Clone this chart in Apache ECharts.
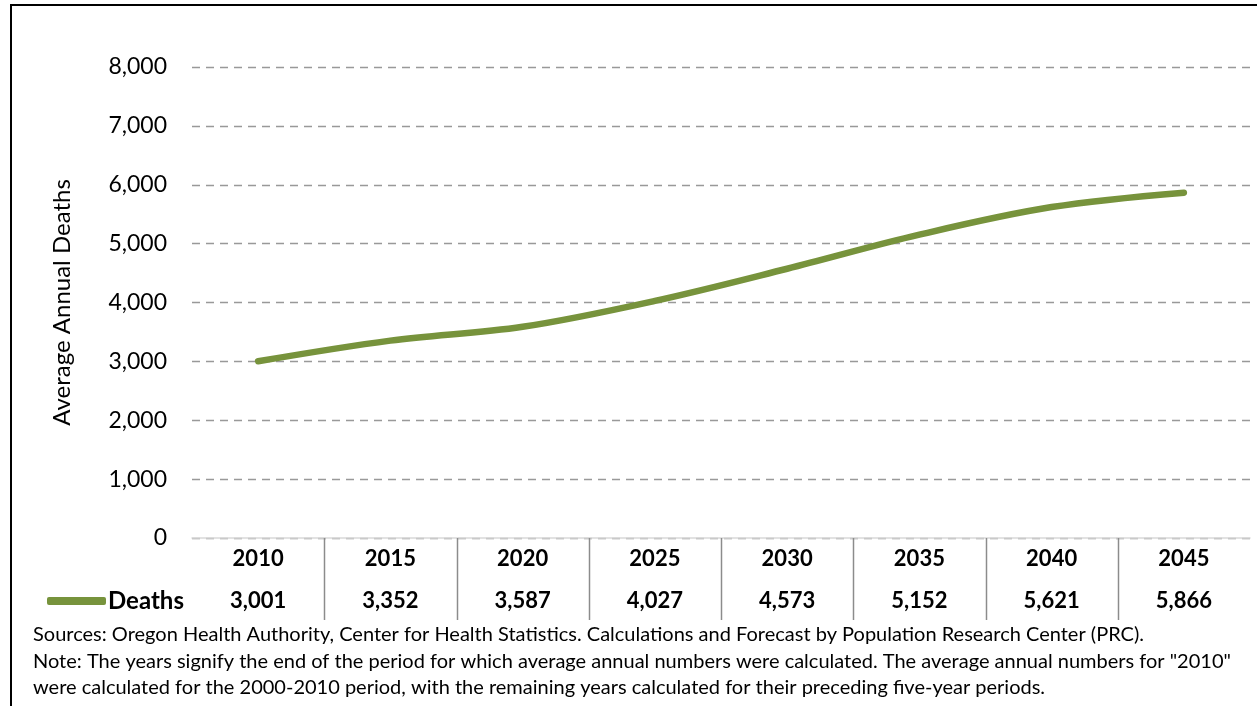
<!DOCTYPE html>
<html>
<head>
<meta charset="utf-8">
<title>Average Annual Deaths</title>
<script src="https://cdn.jsdelivr.net/npm/echarts@6/dist/echarts.min.js"></script>
<style>
  html, body { margin: 0; padding: 0; background: #ffffff; }
  #chart { width: 1257px; height: 706px; }
</style>
</head>
<body>
<div id="chart"></div>
<script>
// Period end years and average annual deaths for each period
const years = ['2010', '2015', '2020', '2025', '2030', '2035', '2040', '2045'];
const deaths = [3001, 3352, 3587, 4027, 4573, 5152, 5621, 5866];
const yTicks = [0, 1000, 2000, 3000, 4000, 5000, 6000, 7000, 8000];
const seriesName = 'Deaths';
const footnotes = [
  'Sources: Oregon Health Authority, Center for Health Statistics. Calculations and Forecast by Population Research Center (PRC).',
  'Note: The years signify the end of the period for which average annual numbers were calculated. The average annual numbers for "2010"',
  'were calculated for the 2000-2010 period, with the remaining years calculated for their preceding five-year periods.'
];

const FONT = 'Lato, "Open Sans", sans-serif';
const GREEN = '#77933c';
const fmt = v => v.toLocaleString('en-US');

// Interior column boundaries of the data table under the axis
const separators = years.slice(1).map((_, i) => [i, 0]);

const chart = echarts.init(document.getElementById('chart'), null, { renderer: 'canvas' });

chart.setOption({
  animation: false,
  backgroundColor: '#ffffff',
  textStyle: { fontFamily: FONT },
  grid: { left: 192, right: 7, top: 67, bottom: 168 },
  legend: {
    data: [{ name: seriesName, icon: 'roundRect' }],
    left: 47,
    top: 589,
    padding: 0,
    itemWidth: 59,
    itemHeight: 8,
    itemGap: 0,
    textStyle: { fontFamily: FONT, fontSize: 24, fontWeight: 'bold', color: '#000', padding: [0, 0, 0, -3] }
  },
  xAxis: {
    type: 'category',
    data: years,
    boundaryGap: true,
    axisLine: { show: true, lineStyle: { color: '#d9d9d9', width: 1.5 } },
    axisTick: { show: false },
    axisLabel: {
      margin: 0,
      interval: 0,
      formatter: (val, idx) => '{y|' + val + '}\n{v|' + fmt(deaths[idx]) + '}',
      rich: {
        y: { fontFamily: FONT, fontSize: 22, fontWeight: 'bold', color: '#000', lineHeight: 42 },
        v: { fontFamily: FONT, fontSize: 22, fontWeight: 'bold', color: '#000', lineHeight: 42 }
      }
    },
    splitLine: { show: false }
  },
  yAxis: {
    type: 'value',
    min: yTicks[0],
    max: yTicks[yTicks.length - 1],
    interval: 1000,
    name: 'Average Annual Deaths',
    nameLocation: 'middle',
    nameRotate: 90,
    nameGap: 118,
    nameTextStyle: { fontFamily: FONT, fontSize: 24, color: '#000' },
    axisLine: { show: false },
    axisTick: { show: false },
    axisLabel: {
      margin: 25,
      fontFamily: FONT,
      fontSize: 23,
      color: '#000',
      formatter: v => fmt(v)
    },
    splitLine: { lineStyle: { color: '#999999', width: 1.4, type: [8, 6] } }
  },
  graphic: [
    {
      type: 'rect',
      shape: { x: 11, y: 5, width: 1400, height: 900 },
      style: { fill: 'none', stroke: '#000', lineWidth: 2 },
      silent: true
    },
    ...footnotes.map((t, i) => ({
      type: 'text',
      left: 33,
      top: 625 + i * 26.5,
      style: { text: t, fontFamily: FONT, fontSize: 20, fill: '#000' },
      silent: true
    }))
  ],
  series: [
    {
      name: seriesName,
      type: 'line',
      data: deaths,
      smooth: 0.35,
      showSymbol: false,
      symbol: 'none',
      itemStyle: { color: GREEN },
      lineStyle: { color: GREEN, width: 6.5, cap: 'round', join: 'round' },
      z: 5
    },
    {
      name: 'table-separators',
      type: 'custom',
      data: separators,
      silent: true,
      clip: false,
      renderItem: (params, api) => {
        const base = api.coord([api.value(0), 0]);
        const band = api.size([1, 0])[0];
        const x = Math.round(base[0] + band / 2) + 0.5;
        return {
          type: 'line',
          shape: { x1: x, y1: base[1], x2: x, y2: base[1] + 82 },
          style: { stroke: '#8c8c8c', lineWidth: 1.5 }
        };
      }
    }
  ]
});
</script>
</body>
</html>
